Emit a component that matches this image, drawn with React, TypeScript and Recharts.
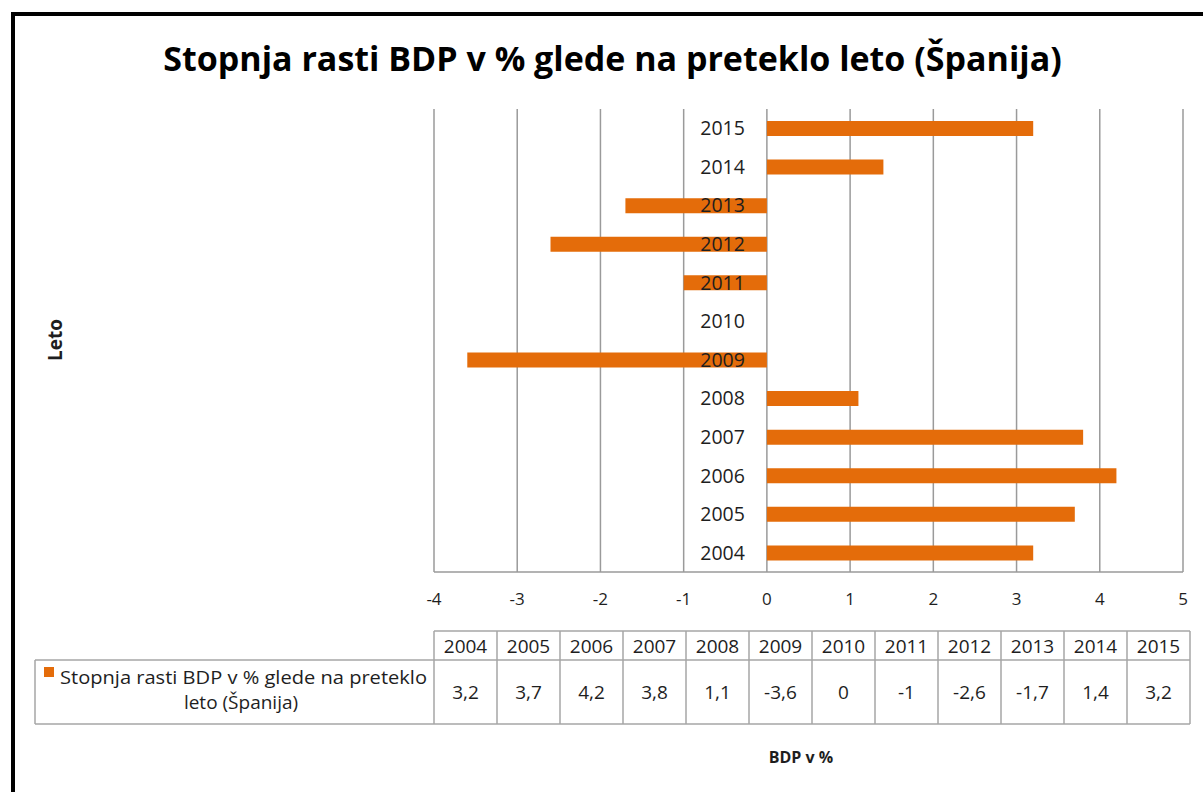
import React from 'react';
import { BarChart, Bar, XAxis, YAxis, CartesianGrid } from 'recharts';

const years = ['2004', '2005', '2006', '2007', '2008', '2009', '2010', '2011', '2012', '2013', '2014', '2015'];
const growth = [3.2, 3.7, 4.2, 3.8, 1.1, -3.6, 0, -1, -2.6, -1.7, 1.4, 3.2];
const xTicks = [-4, -3, -2, -1, 0, 1, 2, 3, 4, 5];
const titleText = 'Stopnja rasti BDP v % glede na preteklo leto (Španija)';
const legendLine1 = 'Stopnja rasti BDP v % glede na preteklo';
const legendLine2 = 'leto (Španija)';
const yAxisTitle = 'Leto';
const xAxisTitle = 'BDP v %';

const data = years.map((y, i) => ({ year: y, value: growth[i] }));

const W = 1203;
const H = 792;
const PLOT_LEFT = 434;
const PLOT_RIGHT = 1183;
const PLOT_TOP = 109;
const PLOT_BOTTOM = 572;
const X_MIN = -4;
const X_MAX = 5;
const ZERO_X = PLOT_LEFT + ((0 - X_MIN) / (X_MAX - X_MIN)) * (PLOT_RIGHT - PLOT_LEFT);
const FONT = '"Open Sans", "DejaVu Sans", sans-serif';
const ORANGE = '#E46C0A';
const GRID = '#9a9a9a';
const TABLE_LINE = '#a6a6a6';
const TEXT = '#1e1e1e';

const YAXIS_W = 10;
const XAXIS_H = 40;

const YTick = (props: any) => {
  const { y, payload } = props;
  return (
    <text x={ZERO_X - 22} y={y} dy={7} textAnchor="end" fontSize={19.5} fontFamily={FONT} fill={TEXT}>
      {payload.value}
    </text>
  );
};

const fmt = (v: number) => String(v).replace('.', ',');

const TABLE_LEFT = 434;
const COL_W = 63;
const HEAD_TOP = 631;
const ROW_MID = 660;
const ROW_BOTTOM = 724;
const LEGEND_LEFT = 35;

export default function App() {
  const tableRight = TABLE_LEFT + COL_W * years.length;
  return (
    <div style={{ position: 'absolute', left: 0, top: 0, width: W, height: H, background: '#fff', overflow: 'hidden' }}>
      <div
        style={{
          position: 'absolute',
          left: 11,
          top: 12,
          width: W,
          height: H,
          borderTop: '4px solid #000',
          borderLeft: '4px solid #000',
        }}
      />
      <div
        style={{
          position: 'absolute',
          left: 0,
          top: 34,
          width: 1225,
          textAlign: 'center',
          fontFamily: FONT,
          fontWeight: 700,
          fontSize: 34,
          color: '#000',
          lineHeight: '48px',
          whiteSpace: 'nowrap',
        }}
      >
        {titleText}
      </div>
      <div style={{ position: 'absolute', left: 0, top: 0 }}>
        <BarChart
          width={W}
          height={H}
          data={data}
          layout="vertical"
          margin={{ left: PLOT_LEFT - YAXIS_W, right: W - PLOT_RIGHT, top: PLOT_TOP, bottom: H - PLOT_BOTTOM - XAXIS_H }}
        >
          <CartesianGrid horizontal={false} stroke={GRID} strokeWidth={1.5} />
          <XAxis
            type="number"
            domain={[X_MIN, X_MAX]}
            ticks={xTicks}
            height={XAXIS_H}
            axisLine={{ stroke: GRID, strokeWidth: 1.5 }}
            tickLine={false}
            tickSize={0}
            tickMargin={21}
            tick={{ fontSize: 17, fontFamily: FONT, fill: TEXT }}
            allowDataOverflow
          />
          <Bar dataKey="value" fill={ORANGE} barSize={15} isAnimationActive={false} />
          <YAxis
            type="category"
            dataKey="year"
            reversed
            width={YAXIS_W}
            axisLine={false}
            tickLine={false}
            tick={<YTick />}
            interval={0}
          />
        </BarChart>
      </div>
      <svg width={W} height={H} style={{ position: 'absolute', left: 0, top: 0, pointerEvents: 'none' }}>
        <g stroke={TABLE_LINE} strokeWidth={1.5} fill="none">
          <line x1={TABLE_LEFT} y1={HEAD_TOP} x2={tableRight} y2={HEAD_TOP} />
          <line x1={LEGEND_LEFT} y1={ROW_MID} x2={tableRight} y2={ROW_MID} />
          <line x1={LEGEND_LEFT} y1={ROW_BOTTOM} x2={tableRight} y2={ROW_BOTTOM} />
          <line x1={LEGEND_LEFT} y1={ROW_MID} x2={LEGEND_LEFT} y2={ROW_BOTTOM} />
          {years.map((_, i) => (
            <line key={i} x1={TABLE_LEFT + i * COL_W} y1={HEAD_TOP} x2={TABLE_LEFT + i * COL_W} y2={ROW_BOTTOM} />
          ))}
          <line x1={tableRight} y1={HEAD_TOP} x2={tableRight} y2={ROW_BOTTOM} />
        </g>
        {years.map((y, i) => (
          <text
            key={'h' + y}
            x={TABLE_LEFT + i * COL_W + COL_W / 2}
            y={(HEAD_TOP + ROW_MID) / 2}
            dy={7}
            textAnchor="middle"
            fontSize={19}
            fontFamily={FONT}
            fill={TEXT}
          >
            {y}
          </text>
        ))}
        {growth.map((v, i) => (
          <text
            key={'v' + i}
            x={TABLE_LEFT + i * COL_W + COL_W / 2}
            y={(ROW_MID + ROW_BOTTOM) / 2}
            dy={7}
            textAnchor="middle"
            fontSize={19}
            fontFamily={FONT}
            fill={TEXT}
          >
            {fmt(v)}
          </text>
        ))}
        <rect x={44} y={667} width={10} height={10} fill={ORANGE} />
        <text x={60} y={684} textAnchor="start" fontSize={19} fontFamily={FONT} fill={TEXT} textLength={367} lengthAdjust="spacingAndGlyphs">
          {legendLine1}
        </text>
        <text x={241} y={709} textAnchor="middle" fontSize={19} fontFamily={FONT} fill={TEXT}>
          {legendLine2}
        </text>
        <text
          x={62}
          y={340}
          transform="rotate(-90 62 340)"
          textAnchor="middle"
          fontSize={19}
          fontWeight={700}
          fontFamily={FONT}
          fill={TEXT}
        >
          {yAxisTitle}
        </text>
        <text x={801} y={763} textAnchor="middle" fontSize={16} fontWeight={700} fontFamily={FONT} fill={TEXT}>
          {xAxisTitle}
        </text>
      </svg>
    </div>
  );
}
